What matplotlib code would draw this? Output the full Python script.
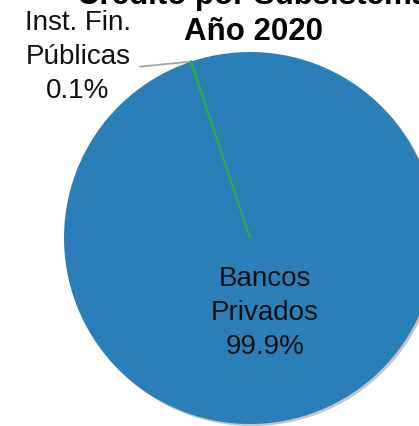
import numpy as np
import matplotlib
matplotlib.use("Agg")
import matplotlib.pyplot as plt

plt.rcParams['font.family'] = ['Liberation Sans', 'DejaVu Sans']

# datos
labels = ['Inst. Fin.\nPúblicas', 'Bancos\nPrivados']
shares = [0.1, 99.9]
colors = ['#2ea84f', '#2b7fb8']
title = 'Crédito por Subsistema\nAño 2020'

fig = plt.figure(figsize=(4.19, 4.26), dpi=100)
ax = fig.add_axes([0, 0, 1, 1])

cx, cy, r = 250, 426 - 238, 186
wedges, _ = ax.pie(shares, colors=colors, startangle=108.7, counterclock=False,
                   center=(cx, cy), radius=r, frame=True,
                   shadow={'ox': 1.5, 'oy': -1.5, 'facecolor': '0.5',
                           'alpha': 0.45, 'edgecolor': 'none'},
                   wedgeprops={'linewidth': 0})
wedges[0].set_edgecolor(colors[0])
wedges[0].set_linewidth(1.4)
wedges[0].set_zorder(5)
ax.set_xlim(0, 419)
ax.set_ylim(0, 426)
ax.set_aspect('equal')
ax.axis('off')

# etiqueta del sector pequeño con linea guia
w = wedges[0]
ang = np.deg2rad((w.theta1 + w.theta2) / 2)
ex, ey = cx + r * np.cos(ang), cy + r * np.sin(ang)
ax.annotate('', xy=(ex, ey), xytext=(140, ey - 5),
            arrowprops=dict(arrowstyle='-', color='#a6a6a6', lw=1.3,
                            shrinkA=0, shrinkB=0))
ax.text(78, 426 - 57, labels[0] + '\n%.1f%%' % shares[0], ha='center', va='center',
        fontsize=20, linespacing=1.4, color='#111111')

# etiqueta del sector grande
ax.text(265, 426 - 313, labels[1] + '\n%.1f%%' % shares[1], ha='center', va='center',
        fontsize=20, linespacing=1.4, color='#111111')

ax.text(253, 426 - 14, title, ha='center', va='center', fontsize=22.5,
        fontweight='bold', linespacing=1.3)

fig.savefig('out.png', dpi=100)
